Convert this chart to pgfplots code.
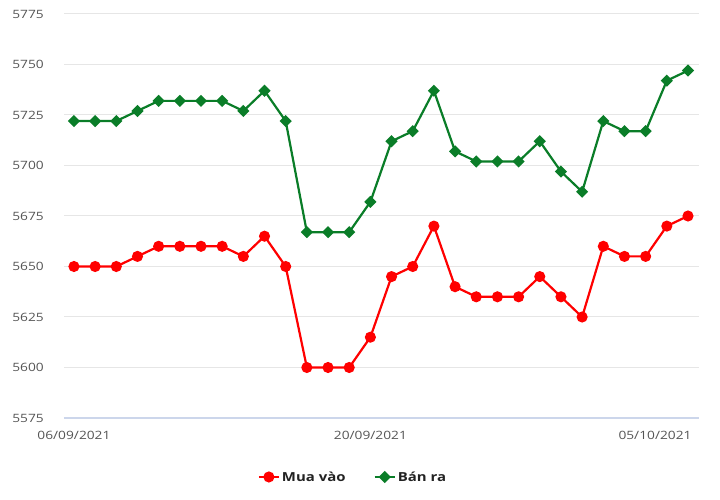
\documentclass[border=0pt]{standalone}
\usepackage{pgfplots}
\pgfplotsset{compat=1.18}
\usepackage{fontspec}
\setmainfont{Open Sans}[FakeStretch=1.2]

\definecolor{buyred}{RGB}{255,0,0}
\definecolor{sellgreen}{RGB}{10,125,40}
\definecolor{gridgray}{RGB}{230,230,230}
\definecolor{axisblue}{RGB}{204,214,235}
\definecolor{ticktext}{RGB}{85,85,85}
\definecolor{legendtext}{RGB}{34,34,34}

\begin{document}
\begin{tikzpicture}
\useasboundingbox (-64bp,-82bp) rectangle (656bp,418bp);
\begin{axis}[
    at={(0,0)}, anchor=south west,
    scale only axis, width=635bp, height=404bp,
    xmin=-0.47, xmax=29.52,
    ymin=5575, ymax=5775,
    ytick={5575,5600,...,5775},
    xtick={0,14,29},
    xticklabels={06/09/2021,20/09/2021,\hspace*{-66bp}05/10/2021},
    /pgf/number format/assume math mode=true,
    /pgf/number format/1000 sep={},
    ymajorgrids=true,
    grid style={gridgray, line width=1bp},
    axis x line*=bottom,
    axis y line*=left,
    x axis line style={draw=axisblue, line width=1.2bp, -},
    y axis line style={draw=none},
    tick style={draw=none},
    major tick length=0pt,
    ticklabel style={font=\fontsize{11.5}{13}\selectfont, text=ticktext, inner sep=0pt},
    yticklabel style={anchor=east, xshift=-20bp},
    xticklabel style={anchor=north, yshift=-13bp},
    legend style={at={(0.455,-0.146)}, anchor=center, draw=none, fill=none,
        font=\bfseries\fontsize{12.5}{14}\selectfont, text=legendtext,
        /tikz/every even column/.append style={column sep=26bp}},
    legend columns=2,
    legend cell align=left,
    legend image code/.code={
        \draw[mark repeat=2, mark phase=2] plot coordinates {(0bp,0bp) (10bp,0bp) (20bp,0bp)};
    },
]

% Mua vao
\addplot[buyred, line width=2.2bp, mark=*, mark size=4.4bp] coordinates {
    (0,5650)(1,5650)(2,5650)(3,5655)(4,5660)(5,5660)(6,5660)(7,5660)(8,5655)(9,5665)
    (10,5650)(11,5600)(12,5600)(13,5600)(14,5615)(15,5645)(16,5650)(17,5670)(18,5640)(19,5635)
    (20,5635)(21,5635)(22,5645)(23,5635)(24,5625)(25,5660)(26,5655)(27,5655)(28,5670)(29,5675)
};

% Ban ra
\addplot[sellgreen, line width=2.2bp, mark=square*, mark size=3.2bp, mark options={rotate=45}] coordinates {
    (0,5722)(1,5722)(2,5722)(3,5727)(4,5732)(5,5732)(6,5732)(7,5732)(8,5727)(9,5737)
    (10,5722)(11,5667)(12,5667)(13,5667)(14,5682)(15,5712)(16,5717)(17,5737)(18,5707)(19,5702)
    (20,5702)(21,5702)(22,5712)(23,5697)(24,5687)(25,5722)(26,5717)(27,5717)(28,5742)(29,5747)
};

\legend{Mua vào, Bán ra}
\end{axis}
\end{tikzpicture}
\end{document}
